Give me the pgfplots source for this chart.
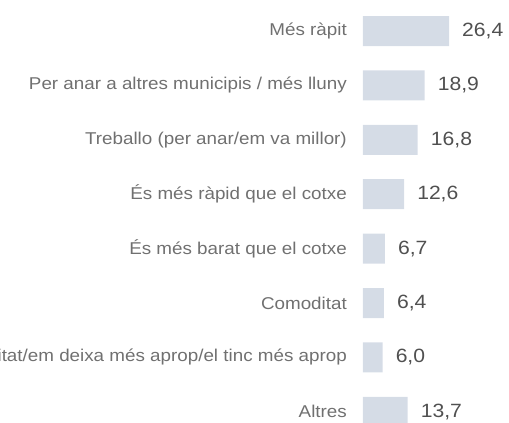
\documentclass[border=0pt]{standalone}
\usepackage{pgfplots}
\pgfplotsset{compat=1.18}
\usepackage{fontspec}
\setmainfont{Liberation Sans}[FakeStretch=1.1]
\definecolor{barc}{RGB}{213,220,230}
\definecolor{labc}{RGB}{112,112,112}
\definecolor{valc}{RGB}{80,80,80}
\begin{document}
\begin{tikzpicture}
\begin{axis}[
  at={(363pt,-3.8pt)}, anchor=north west,
  scale only axis, width=146pt, height=435.2pt,
  xbar, xmin=0, xmax=44.8, ymin=-0.5, ymax=7.5, y dir=reverse,
  bar width=30pt, bar shift=0pt,
  axis x line=none, axis y line=left,
  y axis line style={draw=none}, ytick style={draw=none},
  major tick length=0pt,
  ytick={0,1,2,3,4,5,6,7},
  yticklabels={Més ràpit, Per anar a altres municipis / més lluny, Treballo (per anar/em va millor), És més ràpid que el cotxe, És més barat que el cotxe, Comoditat, Proximitat/em deixa més aprop/el tinc més aprop, Altres},
  yticklabel style={font=\fontsize{17.1}{19}\selectfont, text=labc, inner sep=0pt, anchor=east, xshift=-16pt},
  clip=false,
]
\addplot[fill=barc, draw=none, point meta=explicit symbolic,
  nodes near coords,
  nodes near coords style={anchor=west, xshift=13pt, inner sep=0pt, font=\fontsize{19.2}{21}\selectfont, text=valc}]
  coordinates {
  (26.4,0) [26,4]
  (18.9,1) [18,9]
  (16.8,2) [16,8]
  (12.6,3) [12,6]
  (6.7,4) [6,7]
  (6.4,5) [6,4]
  (6.0,6) [6,0]
  (13.7,7) [13,7]
  };
\end{axis}
\pgfresetboundingbox
\useasboundingbox (0,0) rectangle (509pt,-423pt);
\end{tikzpicture}
\end{document}
